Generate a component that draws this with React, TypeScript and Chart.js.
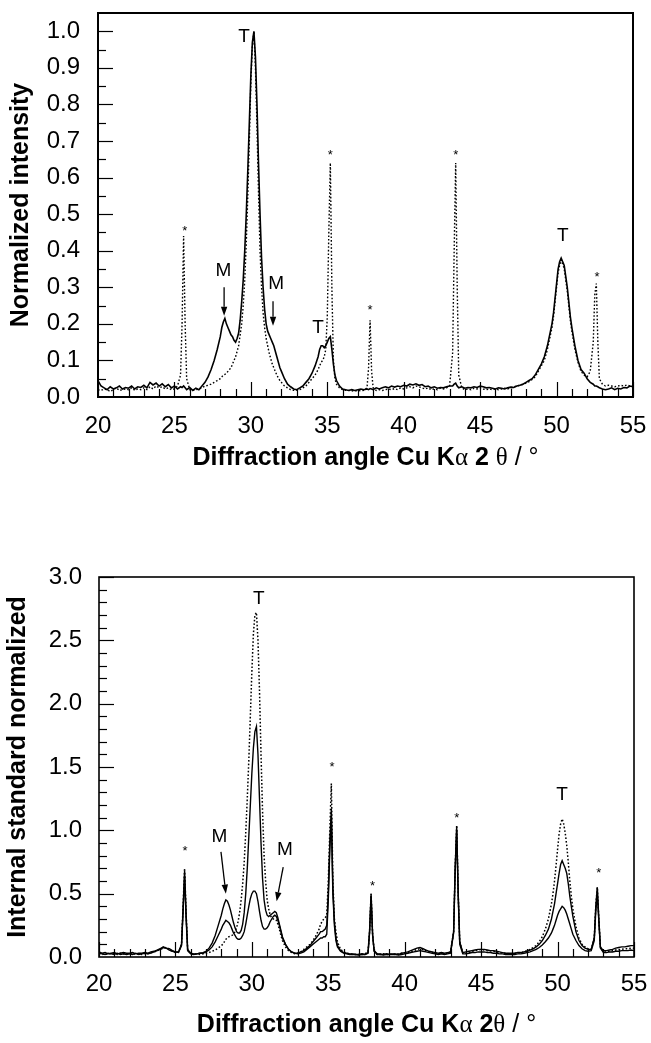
import React, { useEffect, useRef } from "react";
import { Chart, registerables } from "chart.js";

Chart.register(...registerables);

const SANS = '"Liberation Sans", Arial, Helvetica, sans-serif';
const SERIF = '"Liberation Serif", "Times New Roman", serif';

// Diffraction angles 2θ (°), shared by every series
const ANGLES = [
  20.0, 20.2, 20.4, 20.6, 20.8, 21.0, 21.2, 21.4, 21.6, 21.8,
  22.0, 22.2, 22.4, 22.6, 22.8, 23.0, 23.2, 23.4, 23.6, 23.8,
  24.0, 24.2, 24.4, 24.6, 24.8, 25.0, 25.2, 25.4, 25.5, 25.6,
  25.7, 25.8, 26.0, 26.2, 26.4, 26.6, 26.8, 27.0, 27.2, 27.4,
  27.6, 27.8, 28.0, 28.1, 28.2, 28.3, 28.4, 28.5, 28.6, 28.7,
  28.8, 28.9, 29.0, 29.1, 29.2, 29.3, 29.4, 29.5, 29.6, 29.7,
  29.8, 29.9, 30.0, 30.1, 30.2, 30.3, 30.4, 30.5, 30.6, 30.7,
  30.8, 30.9, 31.0, 31.1, 31.2, 31.3, 31.4, 31.5, 31.6, 31.7,
  31.8, 31.9, 32.0, 32.2, 32.4, 32.6, 32.8, 33.0, 33.2, 33.4,
  33.6, 33.8, 34.0, 34.2, 34.4, 34.5, 34.6, 34.7, 34.8, 34.9,
  35.0, 35.1, 35.2, 35.3, 35.4, 35.5, 35.6, 35.8, 36.0, 36.2,
  36.4, 36.6, 36.8, 37.0, 37.2, 37.4, 37.6, 37.7, 37.8, 37.9,
  38.0, 38.2, 38.4, 38.6, 38.8, 39.0, 39.2, 39.4, 39.6, 39.8,
  40.0, 40.2, 40.4, 40.6, 40.8, 41.0, 41.2, 41.4, 41.6, 41.8,
  42.0, 42.2, 42.4, 42.6, 42.8, 43.0, 43.2, 43.3, 43.4, 43.5,
  43.6, 43.8, 44.0, 44.2, 44.4, 44.6, 44.8, 45.0, 45.2, 45.4,
  45.6, 45.8, 46.0, 46.2, 46.4, 46.6, 46.8, 47.0, 47.2, 47.4,
  47.6, 47.8, 48.0, 48.2, 48.4, 48.6, 48.8, 49.0, 49.2, 49.4,
  49.6, 49.7, 49.8, 49.9, 50.0, 50.1, 50.2, 50.3, 50.4, 50.5,
  50.6, 50.7, 50.8, 50.9, 51.0, 51.2, 51.4, 51.6, 51.8, 52.0,
  52.2, 52.4, 52.5, 52.6, 52.7, 52.8, 53.0, 53.2, 53.4, 53.6,
  53.8, 54.0, 54.2, 54.4, 54.6, 54.8, 55.0,
];

// Top panel: normalized intensity, solid trace
const TOP_SOLID = [
  0.045, 0.03, 0.025, 0.02, 0.028, 0.022, 0.025, 0.03, 0.022, 0.026,
  0.024, 0.03, 0.022, 0.028, 0.026, 0.032, 0.025, 0.04, 0.033, 0.038,
  0.03, 0.036, 0.028, 0.034, 0.025, 0.03, 0.022, 0.028, 0.026, 0.03,
  0.025, 0.02, 0.026, 0.018, 0.024, 0.02, 0.03, 0.04, 0.055, 0.075,
  0.1, 0.13, 0.165, 0.19, 0.205, 0.215, 0.2, 0.19, 0.18, 0.17,
  0.165, 0.155, 0.15, 0.16, 0.175, 0.21, 0.26, 0.32, 0.4, 0.5,
  0.62, 0.75, 0.88, 0.97, 1.0, 0.93, 0.8, 0.64, 0.5, 0.38,
  0.3, 0.24, 0.2, 0.18, 0.17, 0.16, 0.15, 0.14, 0.125, 0.11,
  0.095, 0.08, 0.07, 0.05, 0.035, 0.028, 0.022, 0.02, 0.025, 0.03,
  0.04, 0.05, 0.065, 0.085, 0.11, 0.13, 0.14, 0.14, 0.135, 0.14,
  0.15, 0.16, 0.165, 0.13, 0.09, 0.06, 0.045, 0.03, 0.022, 0.02,
  0.018, 0.02, 0.018, 0.02, 0.022, 0.02, 0.022, 0.02, 0.023, 0.022,
  0.02, 0.025, 0.022, 0.025, 0.028, 0.025, 0.03, 0.027, 0.03, 0.028,
  0.032, 0.03, 0.035, 0.033, 0.036, 0.032, 0.034, 0.028, 0.03, 0.025,
  0.028, 0.024, 0.026, 0.025, 0.028, 0.03, 0.03, 0.035, 0.038, 0.03,
  0.025, 0.028, 0.024, 0.026, 0.025, 0.028, 0.026, 0.03, 0.028, 0.025,
  0.026, 0.024, 0.022, 0.025, 0.024, 0.022, 0.025, 0.027, 0.026, 0.03,
  0.032, 0.035, 0.04, 0.045, 0.05, 0.06, 0.075, 0.09, 0.11, 0.14,
  0.18, 0.2, 0.23, 0.27, 0.31, 0.35, 0.37, 0.38, 0.37, 0.36,
  0.33, 0.3, 0.26, 0.22, 0.19, 0.14, 0.1, 0.075, 0.065, 0.05,
  0.04, 0.035, 0.03, 0.03, 0.028, 0.025, 0.022, 0.02, 0.022, 0.025,
  0.02, 0.024, 0.022, 0.026, 0.025, 0.03, 0.028,
];

// Top panel: normalized intensity, dotted trace (with internal standard)
const TOP_DOTTED = [
  0.02, 0.018, 0.022, 0.02, 0.015, 0.02, 0.025, 0.018, 0.02, 0.022,
  0.02, 0.025, 0.018, 0.022, 0.02, 0.025, 0.02, 0.028, 0.022, 0.03,
  0.025, 0.028, 0.022, 0.025, 0.02, 0.022, 0.03, 0.06, 0.2, 0.44,
  0.2, 0.05, 0.02, 0.018, 0.02, 0.022, 0.025, 0.03, 0.032, 0.035,
  0.04, 0.045, 0.05, 0.055, 0.06, 0.062, 0.065, 0.07, 0.075, 0.08,
  0.09, 0.1, 0.11, 0.125, 0.14, 0.17, 0.2, 0.25, 0.32, 0.42,
  0.55, 0.7, 0.86, 0.96, 1.0, 0.9, 0.74, 0.56, 0.4, 0.3,
  0.23, 0.19, 0.16, 0.14, 0.12, 0.105, 0.09, 0.08, 0.07, 0.06,
  0.052, 0.045, 0.04, 0.03, 0.025, 0.02, 0.018, 0.018, 0.02, 0.025,
  0.03, 0.04, 0.05, 0.06, 0.075, 0.085, 0.095, 0.1, 0.11, 0.13,
  0.22, 0.45, 0.64, 0.3, 0.1, 0.05, 0.035, 0.025, 0.02, 0.018,
  0.018, 0.017, 0.016, 0.018, 0.017, 0.018, 0.025, 0.08, 0.21, 0.07,
  0.025, 0.018, 0.02, 0.018, 0.02, 0.022, 0.02, 0.023, 0.02, 0.025,
  0.022, 0.025, 0.028, 0.025, 0.03, 0.028, 0.025, 0.022, 0.025, 0.02,
  0.022, 0.02, 0.024, 0.022, 0.025, 0.03, 0.12, 0.4, 0.64, 0.3,
  0.06, 0.025, 0.02, 0.022, 0.02, 0.024, 0.022, 0.025, 0.022, 0.02,
  0.022, 0.02, 0.022, 0.02, 0.022, 0.024, 0.022, 0.025, 0.028, 0.03,
  0.032, 0.035, 0.038, 0.042, 0.048, 0.055, 0.07, 0.085, 0.1, 0.13,
  0.17, 0.19, 0.22, 0.26, 0.3, 0.34, 0.36, 0.37, 0.365, 0.35,
  0.32, 0.29, 0.25, 0.21, 0.18, 0.13, 0.095, 0.07, 0.06, 0.055,
  0.07, 0.15, 0.28, 0.31, 0.15, 0.05, 0.035, 0.03, 0.032, 0.03,
  0.028, 0.03, 0.032, 0.03, 0.033, 0.03, 0.032,
];

// Bottom panel: internal-standard normalized, dotted trace
const BOT_DOTTED = [
  0.03, 0.02, 0.025, 0.02, 0.03, 0.025, 0.02, 0.03, 0.025, 0.02,
  0.025, 0.03, 0.02, 0.025, 0.02, 0.03, 0.025, 0.035, 0.04, 0.05,
  0.06, 0.07, 0.075, 0.06, 0.045, 0.035, 0.04, 0.1, 0.4, 0.7,
  0.35, 0.06, 0.025, 0.02, 0.025, 0.02, 0.025, 0.03, 0.035, 0.045,
  0.055, 0.07, 0.09, 0.1, 0.12, 0.14, 0.15, 0.16, 0.165, 0.17,
  0.18, 0.2, 0.23, 0.28, 0.35, 0.45, 0.58, 0.75, 0.98, 1.25,
  1.55, 1.9, 2.25, 2.55, 2.7, 2.72, 2.5, 2.1, 1.6, 1.15,
  0.8, 0.6, 0.45, 0.38, 0.33, 0.31, 0.3, 0.3, 0.29, 0.26,
  0.22, 0.17, 0.13, 0.08, 0.05, 0.035, 0.025, 0.03, 0.04, 0.06,
  0.08, 0.1, 0.13, 0.17, 0.22, 0.26, 0.28, 0.3, 0.31, 0.33,
  0.6, 1.0, 1.37, 0.6, 0.3, 0.2, 0.12, 0.06, 0.04, 0.03,
  0.025, 0.02, 0.02, 0.02, 0.02, 0.025, 0.04, 0.2, 0.5, 0.18,
  0.05, 0.02, 0.02, 0.025, 0.02, 0.02, 0.025, 0.02, 0.025, 0.03,
  0.03, 0.035, 0.04, 0.05, 0.06, 0.065, 0.06, 0.05, 0.04, 0.035,
  0.03, 0.025, 0.03, 0.025, 0.03, 0.04, 0.2, 0.7, 1.04, 0.5,
  0.12, 0.03, 0.03, 0.035, 0.045, 0.05, 0.055, 0.06, 0.055, 0.05,
  0.05, 0.045, 0.04, 0.035, 0.03, 0.03, 0.025, 0.025, 0.03, 0.03,
  0.035, 0.04, 0.05, 0.06, 0.075, 0.09, 0.12, 0.16, 0.22, 0.3,
  0.42, 0.5, 0.6, 0.72, 0.85, 0.97, 1.05, 1.09, 1.05, 0.98,
  0.88, 0.75, 0.6, 0.48, 0.38, 0.24, 0.15, 0.1, 0.08, 0.065,
  0.06, 0.15, 0.4, 0.55, 0.3, 0.08, 0.04, 0.04, 0.045, 0.05,
  0.055, 0.06, 0.06, 0.065, 0.065, 0.07, 0.07,
];

// Bottom panel: upper solid trace
const BOT_SOLID_HIGH = [
  0.04, 0.03, 0.035, 0.025, 0.03, 0.035, 0.025, 0.03, 0.035, 0.03,
  0.03, 0.035, 0.025, 0.03, 0.03, 0.035, 0.03, 0.04, 0.045, 0.055,
  0.065, 0.075, 0.07, 0.055, 0.045, 0.04, 0.04, 0.1, 0.38, 0.68,
  0.33, 0.06, 0.03, 0.025, 0.025, 0.03, 0.035, 0.045, 0.07, 0.11,
  0.17, 0.25, 0.33, 0.38, 0.42, 0.45, 0.44, 0.41, 0.37, 0.32,
  0.27, 0.23, 0.2, 0.19, 0.19, 0.21, 0.26, 0.35, 0.5, 0.7,
  0.95, 1.2, 1.45, 1.65, 1.78, 1.82, 1.6, 1.25, 0.9, 0.62,
  0.45, 0.37, 0.33, 0.32, 0.33, 0.34, 0.35, 0.36, 0.35, 0.31,
  0.26, 0.21, 0.16, 0.1, 0.06, 0.04, 0.03, 0.03, 0.04, 0.05,
  0.07, 0.09, 0.12, 0.15, 0.18, 0.2, 0.2, 0.21, 0.22, 0.25,
  0.5, 0.9, 1.17, 0.55, 0.28, 0.15, 0.09, 0.05, 0.035, 0.03,
  0.025, 0.025, 0.02, 0.02, 0.025, 0.02, 0.035, 0.2, 0.5, 0.18,
  0.05, 0.025, 0.025, 0.02, 0.025, 0.02, 0.025, 0.025, 0.02, 0.03,
  0.035, 0.04, 0.05, 0.06, 0.07, 0.075, 0.065, 0.055, 0.045, 0.04,
  0.035, 0.03, 0.035, 0.03, 0.035, 0.04, 0.2, 0.7, 1.03, 0.5,
  0.12, 0.035, 0.04, 0.045, 0.05, 0.055, 0.06, 0.06, 0.06, 0.055,
  0.05, 0.05, 0.045, 0.04, 0.035, 0.03, 0.03, 0.03, 0.03, 0.035,
  0.035, 0.04, 0.045, 0.055, 0.065, 0.08, 0.1, 0.13, 0.17, 0.22,
  0.3, 0.36, 0.42, 0.5, 0.58, 0.66, 0.73, 0.76, 0.73, 0.7,
  0.66, 0.58, 0.48, 0.4, 0.32, 0.2, 0.13, 0.09, 0.07, 0.06,
  0.06, 0.15, 0.4, 0.55, 0.3, 0.08, 0.05, 0.05, 0.055, 0.06,
  0.07, 0.075, 0.08, 0.08, 0.085, 0.09, 0.09,
];

// Bottom panel: lower solid trace
const BOT_SOLID_LOW = [
  0.03, 0.025, 0.02, 0.03, 0.025, 0.02, 0.03, 0.02, 0.025, 0.02,
  0.025, 0.02, 0.03, 0.02, 0.025, 0.03, 0.025, 0.03, 0.04, 0.05,
  0.06, 0.08, 0.07, 0.065, 0.05, 0.04, 0.035, 0.09, 0.36, 0.64,
  0.3, 0.05, 0.025, 0.02, 0.025, 0.03, 0.03, 0.04, 0.055, 0.08,
  0.12, 0.17, 0.22, 0.25, 0.27, 0.29, 0.28, 0.27, 0.25, 0.22,
  0.19, 0.17, 0.15, 0.14, 0.14, 0.15, 0.17, 0.2, 0.26, 0.33,
  0.4, 0.46, 0.5, 0.52, 0.52, 0.5, 0.44, 0.36, 0.29, 0.24,
  0.22, 0.22, 0.23, 0.25, 0.28, 0.3, 0.32, 0.33, 0.32, 0.29,
  0.25, 0.2, 0.15, 0.1, 0.06, 0.04, 0.03, 0.025, 0.03, 0.04,
  0.06, 0.08, 0.1, 0.12, 0.14, 0.15, 0.15, 0.16, 0.16, 0.18,
  0.45, 0.85, 1.1, 0.5, 0.25, 0.13, 0.08, 0.045, 0.03, 0.025,
  0.02, 0.02, 0.02, 0.015, 0.02, 0.02, 0.03, 0.19, 0.48, 0.17,
  0.045, 0.02, 0.02, 0.015, 0.02, 0.02, 0.02, 0.02, 0.015, 0.02,
  0.025, 0.03, 0.035, 0.04, 0.045, 0.05, 0.045, 0.04, 0.035, 0.03,
  0.025, 0.02, 0.025, 0.02, 0.025, 0.03, 0.19, 0.68, 1.0, 0.48,
  0.1, 0.025, 0.025, 0.03, 0.035, 0.035, 0.04, 0.04, 0.04, 0.035,
  0.035, 0.03, 0.03, 0.025, 0.025, 0.02, 0.02, 0.02, 0.02, 0.025,
  0.025, 0.03, 0.035, 0.04, 0.05, 0.06, 0.075, 0.095, 0.12, 0.15,
  0.19, 0.22, 0.25, 0.29, 0.33, 0.36, 0.38, 0.4, 0.39, 0.37,
  0.34, 0.3, 0.26, 0.22, 0.18, 0.13, 0.09, 0.065, 0.05, 0.045,
  0.05, 0.13, 0.36, 0.5, 0.28, 0.07, 0.035, 0.035, 0.04, 0.04,
  0.045, 0.045, 0.05, 0.05, 0.05, 0.055, 0.05,
];

// Axis ticks
const X_TICKS = [20, 25, 30, 35, 40, 45, 50, 55];
const TOP_Y_TICKS = [0, 0.1, 0.2, 0.3, 0.4, 0.5, 0.6, 0.7, 0.8, 0.9, 1.0];
const BOT_Y_TICKS = [0, 0.5, 1.0, 1.5, 2.0, 2.5, 3.0];

// Peak annotations: [angle, value, text]
const TOP_NOTES: [number, number, string][] = [
  [25.68, 0.46, "*"],
  [28.2, 0.345, "M"],
  [29.55, 0.985, "T"],
  [31.65, 0.31, "M"],
  [34.4, 0.19, "T"],
  [35.2, 0.67, "*"],
  [37.8, 0.245, "*"],
  [43.4, 0.67, "*"],
  [50.4, 0.44, "T"],
  [52.65, 0.335, "*"],
];
const TOP_ARROWS: [number, number, number, number][] = [
  [28.25, 0.3, 28.25, 0.222],
  [31.45, 0.262, 31.45, 0.195],
];
const BOT_NOTES: [number, number, string][] = [
  [25.62, 0.86, "*"],
  [27.87, 0.95, "M"],
  [30.45, 2.83, "T"],
  [32.16, 0.85, "M"],
  [35.25, 1.52, "*"],
  [37.9, 0.58, "*"],
  [43.4, 1.12, "*"],
  [50.3, 1.28, "T"],
  [52.7, 0.68, "*"],
];
const BOT_ARROWS: [number, number, number, number][] = [
  [27.98, 0.83, 28.3, 0.5],
  [32.05, 0.71, 31.62, 0.44],
];

type Seg = { t: string; f: string };
const TOP_X_TITLE: Seg[] = [
  { t: "Diffraction angle Cu K", f: `bold 25px ${SANS}` },
  { t: "α", f: `25px ${SERIF}` },
  { t: " 2 ", f: `bold 25px ${SANS}` },
  { t: "θ", f: `25px ${SERIF}` },
  { t: " / °", f: `25px ${SANS}` },
];
const BOT_X_TITLE: Seg[] = [
  { t: "Diffraction angle Cu K", f: `bold 25px ${SANS}` },
  { t: "α", f: `25px ${SERIF}` },
  { t: " 2", f: `bold 25px ${SANS}` },
  { t: "θ", f: `25px ${SERIF}` },
  { t: " / °", f: `25px ${SANS}` },
];

const framePlugin = {
  id: "frame",
  afterDatasetsDraw(chart: any, _args: any, o: any) {
    const { ctx, chartArea: a } = chart;
    const xs = chart.scales.x;
    const ys = chart.scales.y;
    ctx.save();
    ctx.strokeStyle = "#000";
    ctx.fillStyle = "#000";
    ctx.lineWidth = o.frameWidth;
    ctx.strokeRect(a.left, a.top, a.right - a.left, a.bottom - a.top);
    ctx.lineWidth = 1.2;
    // inward ticks on bottom axis
    const nx = Math.round((xs.max - xs.min) / o.xMinor);
    for (let i = 0; i <= nx; i++) {
      const v = xs.min + i * o.xMinor;
      const major = Math.abs(v / o.xMajor - Math.round(v / o.xMajor)) < 1e-6;
      const px = Math.round(xs.getPixelForValue(v)) + 0.5;
      ctx.beginPath();
      ctx.moveTo(px, a.bottom);
      ctx.lineTo(px, a.bottom - (major ? o.majorLen : o.minorLen));
      ctx.stroke();
    }
    // inward ticks on left axis
    const ny = Math.floor((o.yLast - ys.min) / o.yMinor + 1e-6);
    for (let i = 1; i <= ny; i++) {
      const v = ys.min + i * o.yMinor;
      const major = Math.abs(v / o.yMajor - Math.round(v / o.yMajor)) < 1e-6;
      const py = Math.round(ys.getPixelForValue(v)) + 0.5;
      ctx.beginPath();
      ctx.moveTo(a.left, py);
      ctx.lineTo(a.left + (major ? o.majorLen : o.minorLen), py);
      ctx.stroke();
    }
    // annotations
    ctx.textAlign = "center";
    ctx.textBaseline = "middle";
    for (const [vx, vy, t] of o.notes) {
      const star = t === "*";
      ctx.font = star ? `13px ${SANS}` : `19px ${SANS}`;
      ctx.fillText(t, xs.getPixelForValue(vx), ys.getPixelForValue(vy) + (star ? 3 : 0));
    }
    // arrows
    ctx.lineWidth = 1.3;
    for (const [x1v, y1v, x2v, y2v] of o.arrows) {
      const x1 = xs.getPixelForValue(x1v);
      const y1 = ys.getPixelForValue(y1v);
      const x2 = xs.getPixelForValue(x2v);
      const y2 = ys.getPixelForValue(y2v);
      const ang = Math.atan2(y2 - y1, x2 - x1);
      const L = 9;
      const W = 3.2;
      const bx = x2 - L * Math.cos(ang);
      const by = y2 - L * Math.sin(ang);
      ctx.beginPath();
      ctx.moveTo(x1, y1);
      ctx.lineTo(bx, by);
      ctx.stroke();
      ctx.beginPath();
      ctx.moveTo(x2, y2);
      ctx.lineTo(bx + W * Math.sin(ang), by - W * Math.cos(ang));
      ctx.lineTo(bx - W * Math.sin(ang), by + W * Math.cos(ang));
      ctx.closePath();
      ctx.fill();
    }
    // x-axis title with mixed fonts
    ctx.textAlign = "left";
    let total = 0;
    for (const s of o.xTitle) {
      ctx.font = s.f;
      total += ctx.measureText(s.t).width;
    }
    let cx = (a.left + a.right) / 2 - total / 2;
    const cy = a.bottom + o.xTitleOffset;
    for (const s of o.xTitle) {
      ctx.font = s.f;
      ctx.fillText(s.t, cx, cy);
      cx += ctx.measureText(s.t).width;
    }
    ctx.restore();
  },
};

type Spec = {
  height: number;
  padTop: number;
  padRight: number;
  yWidth: number;
  xHeight: number;
  yMax: number;
  yTicks: number[];
  yMinor: number;
  yMajor: number;
  yTitle: string;
  yTitlePad: number;
  yTickPad: number;
  xTickPad: number;
  series: { values: number[]; dash: number[]; width: number }[];
  notes: [number, number, string][];
  arrows: [number, number, number, number][];
  xTitle: Seg[];
  xTitleOffset: number;
  frameWidth: number;
};

function buildConfig(s: Spec): any {
  return {
    type: "line",
    data: {
      datasets: s.series.map((ser) => ({
        data: ANGLES.map((a, i) => ({ x: a, y: ser.values[i] })),
        borderColor: "#000",
        borderWidth: ser.width,
        borderDash: ser.dash,
        pointRadius: 0,
        tension: 0,
        fill: false,
      })),
    },
    plugins: [framePlugin],
    options: {
      responsive: false,
      maintainAspectRatio: false,
      animation: false,
      events: [],
      layout: { padding: { top: s.padTop, right: s.padRight, left: 0, bottom: 0 } },
      plugins: {
        legend: { display: false },
        tooltip: { enabled: false },
        frame: {
          frameWidth: s.frameWidth,
          xMinor: 1,
          xMajor: 5,
          yMinor: s.yMinor,
          yMajor: s.yMajor,
          yLast: s.yTicks[s.yTicks.length - 1],
          majorLen: 15,
          minorLen: 8,
          notes: s.notes,
          arrows: s.arrows,
          xTitle: s.xTitle,
          xTitleOffset: s.xTitleOffset,
        },
      },
      scales: {
        x: {
          type: "linear",
          min: 20,
          max: 55,
          grid: { display: false, drawTicks: false },
          border: { display: false },
          afterBuildTicks: (sc: any) => {
            sc.ticks = X_TICKS.map((v) => ({ value: v }));
          },
          afterFit: (sc: any) => {
            sc.height = s.xHeight;
            sc.paddingLeft = 0;
            sc.paddingRight = 0;
          },
          ticks: {
            autoSkip: false,
            maxRotation: 0,
            padding: s.xTickPad,
            color: "#000",
            font: { family: SANS, size: 24 },
            callback: (v: any) => String(v),
          },
        },
        y: {
          type: "linear",
          min: 0,
          max: s.yMax,
          grid: { display: false, drawTicks: false },
          border: { display: false },
          afterBuildTicks: (sc: any) => {
            sc.ticks = s.yTicks.map((v) => ({ value: v }));
          },
          afterFit: (sc: any) => {
            sc.width = s.yWidth;
            sc.paddingTop = 0;
            sc.paddingBottom = 0;
          },
          ticks: {
            autoSkip: false,
            padding: s.yTickPad,
            color: "#000",
            font: { family: SANS, size: 24 },
            callback: (v: any) => Number(v).toFixed(1),
          },
          title: {
            display: true,
            text: s.yTitle,
            color: "#000",
            font: { family: SANS, size: 25, weight: "bold" },
            padding: { top: s.yTitlePad, bottom: 0 },
          },
        },
      },
    },
  };
}

const TOP_SPEC: Spec = {
  height: 480,
  padTop: 13,
  padRight: 18,
  yWidth: 98,
  xHeight: 83,
  yMax: 1.05,
  yTicks: TOP_Y_TICKS,
  yMinor: 0.05,
  yMajor: 0.1,
  yTitle: "Normalized intensity",
  yTitlePad: 6.5,
  yTickPad: 18,
  xTickPad: 14.6,
  series: [
    { values: TOP_DOTTED, dash: [1.6, 2], width: 1.4 },
    { values: TOP_SOLID, dash: [], width: 1.6 },
  ],
  notes: TOP_NOTES,
  arrows: TOP_ARROWS,
  xTitle: TOP_X_TITLE,
  xTitleOffset: 61,
  frameWidth: 2,
};

const BOT_SPEC: Spec = {
  height: 503,
  padTop: 37,
  padRight: 17,
  yWidth: 99,
  xHeight: 86,
  yMax: 3.0,
  yTicks: BOT_Y_TICKS,
  yMinor: 0.1,
  yMajor: 0.5,
  yTitle: "Internal standard normalized",
  yTitlePad: 3.5,
  yTickPad: 17,
  xTickPad: 12.6,
  series: [
    { values: BOT_DOTTED, dash: [1.6, 2], width: 1.5 },
    { values: BOT_SOLID_HIGH, dash: [], width: 1.4 },
    { values: BOT_SOLID_LOW, dash: [], width: 1.4 },
  ],
  notes: BOT_NOTES,
  arrows: BOT_ARROWS,
  xTitle: BOT_X_TITLE,
  xTitleOffset: 68,
  frameWidth: 1.6,
};

function Panel({ spec, top }: { spec: Spec; top: number }) {
  const ref = useRef<HTMLCanvasElement | null>(null);
  useEffect(() => {
    if (!ref.current) return;
    const chart = new Chart(ref.current, buildConfig(spec));
    return () => chart.destroy();
  }, [spec]);
  return (
    <canvas
      ref={ref}
      width={651}
      height={spec.height}
      style={{ position: "absolute", left: 0, top, width: 651, height: spec.height, display: "block" }}
    />
  );
}

export default function App() {
  return (
    <div style={{ position: "absolute", left: 0, top: 0, width: 651, height: 1043, background: "#fff", overflow: "hidden" }}>
      <Panel spec={TOP_SPEC} top={0} />
      <Panel spec={BOT_SPEC} top={540} />
    </div>
  );
}
